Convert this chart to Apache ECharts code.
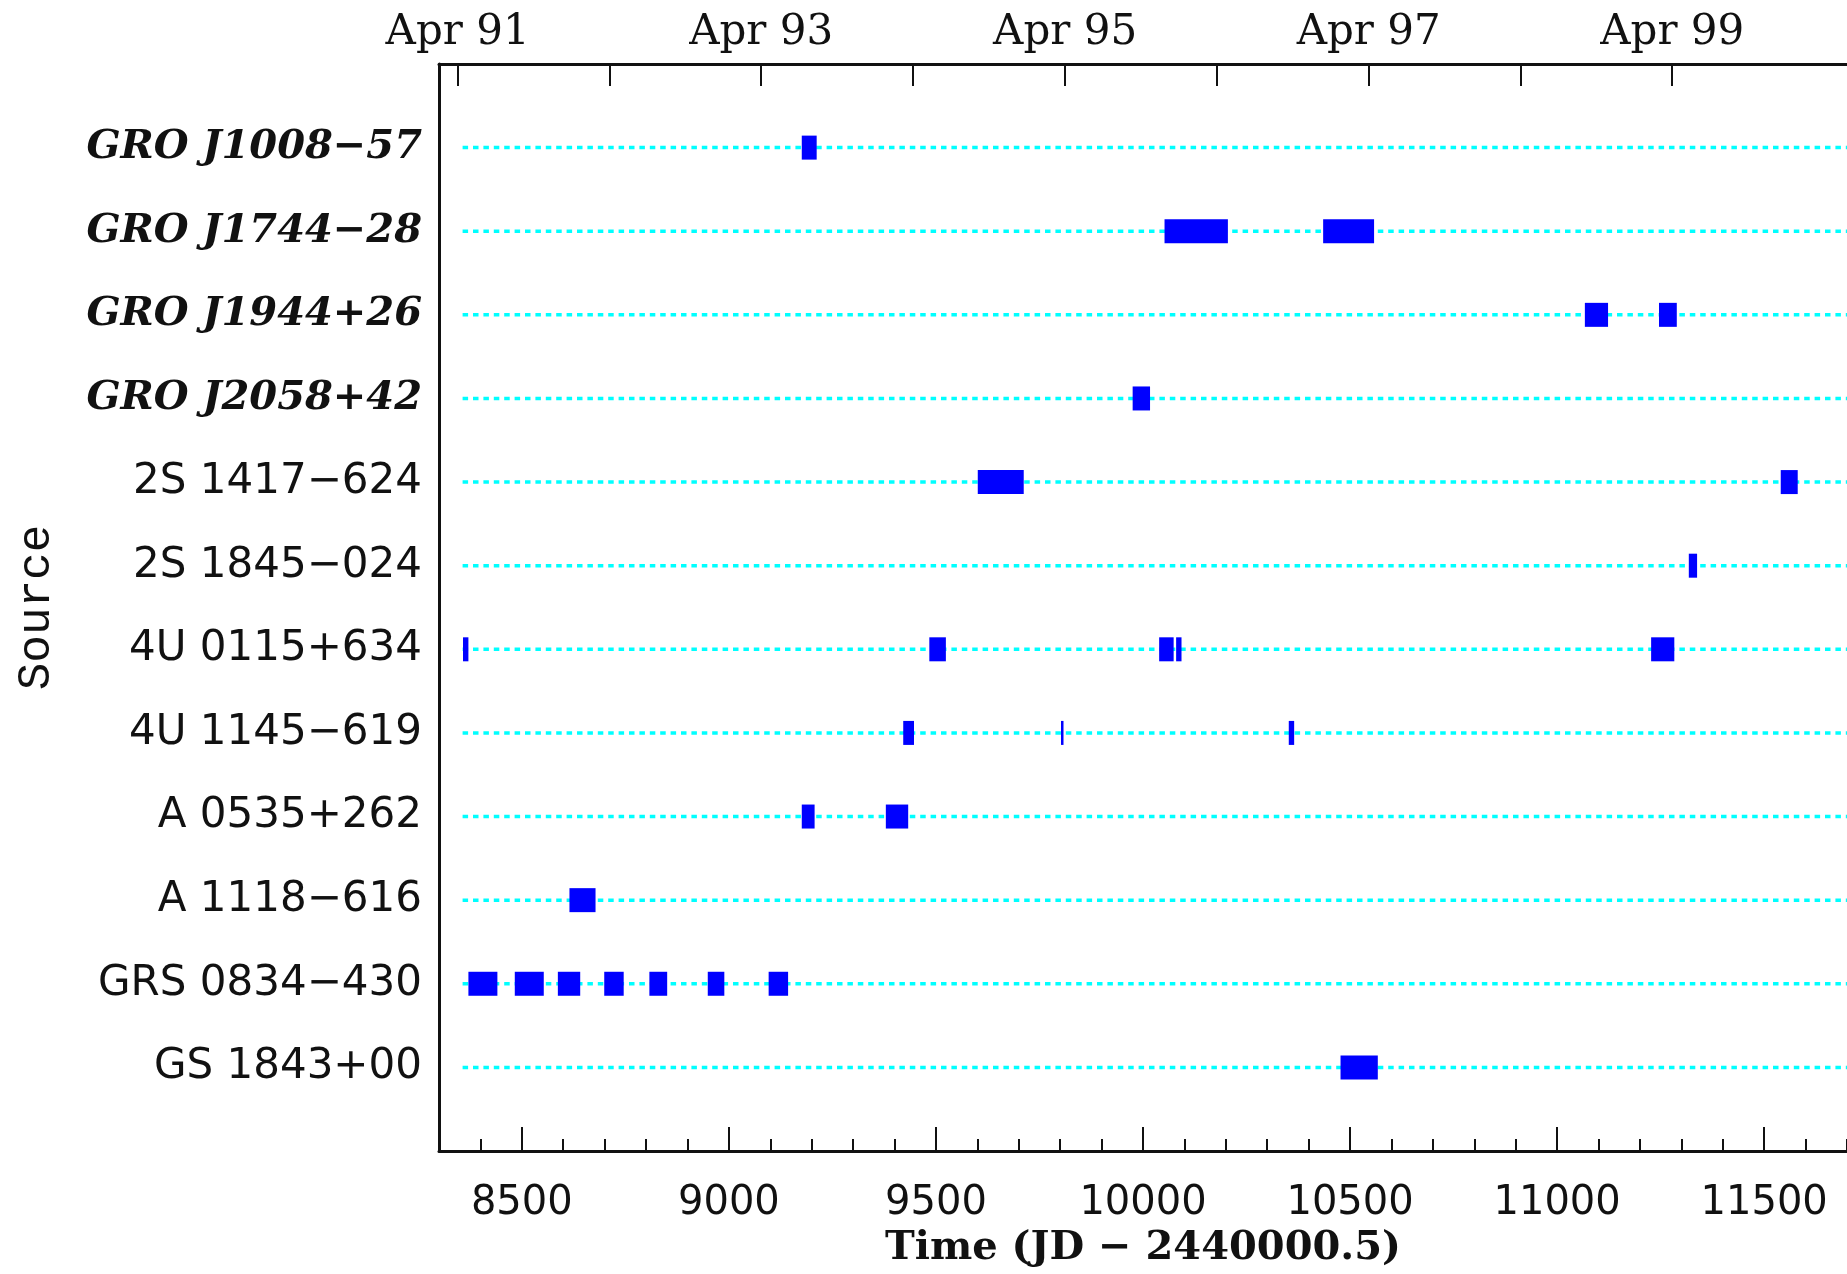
<!DOCTYPE html>
<html>
<head>
<meta charset="utf-8">
<script src="https://cdn.jsdelivr.net/npm/echarts@6/dist/echarts.min.js"></script>
<style>
  html, body { margin: 0; padding: 0; background: #ffffff; }
  #chart { width: 1847px; height: 1274px; }
</style>
</head>
<body>
<div id="chart"></div>
<script>
// ---------------- data ----------------
const sources = [
  'GRO J1008−57', 'GRO J1744−28', 'GRO J1944+26', 'GRO J2058+42',
  '2S 1417−624', '2S 1845−024', '4U 0115+634', '4U 1145−619',
  'A 0535+262', 'A 1118−616', 'GRS 0834−430', 'GS 1843+00'
];

// outburst intervals [start, end] in JD − 2440000.5, one array per source
const groJ1008_57 = [[9176, 9212]];
const groJ1744_28 = [[10052, 10205], [10435, 10558]];
const groJ1944_26 = [[11067, 11123], [11246, 11289]];
const groJ2058_42 = [[9975, 10017]];
const s2S1417_624 = [[9601, 9712], [11540, 11581]];
const s2S1845_024 = [[11318, 11338]];
const u4U0115_634 = [[8358, 8371], [9484, 9524], [10039, 10074], [10080, 10093], [11227, 11283]];
const u4U1145_619 = [[9421, 9447], [9802, 9808], [10352, 10365]];
const aA0535_262 = [[9176, 9207], [9379, 9433]];
const aA1118_616 = [[8615, 8678]];
const grs0834_430 = [[8371, 8441], [8483, 8553], [8587, 8641], [8699, 8746], [8808, 8851], [8949, 8989], [9096, 9143]];
const gs1843_00 = [[10477, 10567]];

const intervalsBySource = [
  groJ1008_57, groJ1744_28, groJ1944_26, groJ2058_42,
  s2S1417_624, s2S1845_024, u4U0115_634, u4U1145_619,
  aA0535_262, aA1118_616, grs0834_430, gs1843_00
];

// observation window (dotted guide lines)
const obsStart = 8357;
const obsEnd = 11700;

// axis ticks and labels
const xMin = 8300, xMax = 11700;
const majorTicks = [8500, 9000, 9500, 10000, 10500, 11000, 11500];
const yearTicks = [8345, 8712, 9078, 9445, 9812, 10178, 10545, 10912, 11278];
const topLabelDays = [8345, 9078, 9812, 10545, 11278];
const topLabels = ['Apr 91', 'Apr 93', 'Apr 95', 'Apr 97', 'Apr 99'];

// ---------------- build ----------------
const barData = [];
intervalsBySource.forEach((list, i) => {
  list.forEach(iv => barData.push([iv[0], iv[1], i + 1]));
});
const guideData = sources.map((s, i) => [obsStart, obsEnd, i + 1]);

const ink = '#111111';
const chart = echarts.init(document.getElementById('chart'), null, { renderer: 'canvas' });

chart.setOption({
  animation: false,
  backgroundColor: '#ffffff',
  grid: { left: 439, top: 64, width: 1412, height: 1087, containLabel: false },
  xAxis: [
    {
      type: 'value', position: 'bottom', min: xMin, max: xMax, interval: 100,
      axisLine: { show: false, onZero: false },
      axisTick: { show: true, inside: true, length: 12, lineStyle: { color: ink, width: 2 } },
      axisLabel: { show: false },
      splitLine: { show: false }
    },
    {
      type: 'value', position: 'bottom', min: xMin, max: xMax,
      axisLine: { show: true, onZero: false, lineStyle: { color: ink, width: 3 } },
      axisTick: { show: true, inside: true, length: 24, customValues: majorTicks, lineStyle: { color: ink, width: 2 } },
      axisLabel: {
        customValues: majorTicks, margin: 33,
        fontFamily: 'DejaVu Sans', fontSize: 40, color: ink,
        formatter: v => String(v)
      },
      splitLine: { show: false },
      name: 'Time (JD − 2440000.5)', nameLocation: 'middle', nameGap: 78,
      nameTextStyle: { fontFamily: 'DejaVu Serif', fontWeight: 'bold', fontSize: 40, color: ink }
    },
    {
      type: 'value', position: 'top', min: xMin, max: xMax,
      axisLine: { show: true, onZero: false, lineStyle: { color: ink, width: 3 } },
      axisTick: { show: true, inside: true, length: 22, customValues: yearTicks, lineStyle: { color: ink, width: 2 } },
      axisLabel: {
        customValues: topLabelDays, margin: 10,
        fontFamily: 'DejaVu Serif', fontSize: 42, color: ink,
        formatter: v => { const k = topLabelDays.indexOf(v); return k >= 0 ? topLabels[k] : ''; }
      },
      splitLine: { show: false }
    }
  ],
  yAxis: {
    type: 'value', min: 0, max: 13, interval: 1, inverse: true,
    axisLine: { show: true, onZero: false, lineStyle: { color: ink, width: 3 } },
    axisTick: { show: false },
    splitLine: { show: false },
    axisLabel: {
      margin: 17,
      formatter: v => {
        const name = sources[v - 1];
        if (!name) return '';
        return name.startsWith('GRO') ? '{g|' + name + '}' : '{n|' + name + '}';
      },
      rich: {
        g: { fontFamily: 'DejaVu Serif', fontStyle: 'italic', fontWeight: 'bold', fontSize: 40, color: ink },
        n: { fontFamily: 'DejaVu Sans', fontSize: 42, color: ink }
      }
    },
    name: 'Source', nameLocation: 'middle', nameRotate: 90, nameGap: 379,
    nameTextStyle: { fontFamily: 'Liberation Mono', fontSize: 46, color: ink }
  },
  series: [
    {
      type: 'custom', xAxisIndex: 1, yAxisIndex: 0, z: 1,
      data: guideData,
      encode: { x: [0, 1], y: 2 },
      renderItem: (params, api) => {
        const p1 = api.coord([api.value(0), api.value(2)]);
        const p2 = api.coord([api.value(1), api.value(2)]);
        return {
          type: 'line',
          shape: { x1: p1[0], y1: p1[1], x2: p2[0], y2: p2[1] },
          style: { stroke: '#00ffff', lineWidth: 3.5, lineDash: [5.5, 4.9] }
        };
      }
    },
    {
      type: 'custom', xAxisIndex: 1, yAxisIndex: 0, z: 2,
      data: barData,
      encode: { x: [0, 1], y: 2 },
      renderItem: (params, api) => {
        const p1 = api.coord([api.value(0), api.value(2)]);
        const p2 = api.coord([api.value(1), api.value(2)]);
        const h = api.size([0, 1])[1] * 0.287;
        return {
          type: 'rect',
          shape: { x: p1[0], y: p1[1] - h / 2, width: Math.max(p2[0] - p1[0], 2.5), height: h },
          style: { fill: '#0000ff' }
        };
      }
    }
  ]
});
</script>
</body>
</html>
